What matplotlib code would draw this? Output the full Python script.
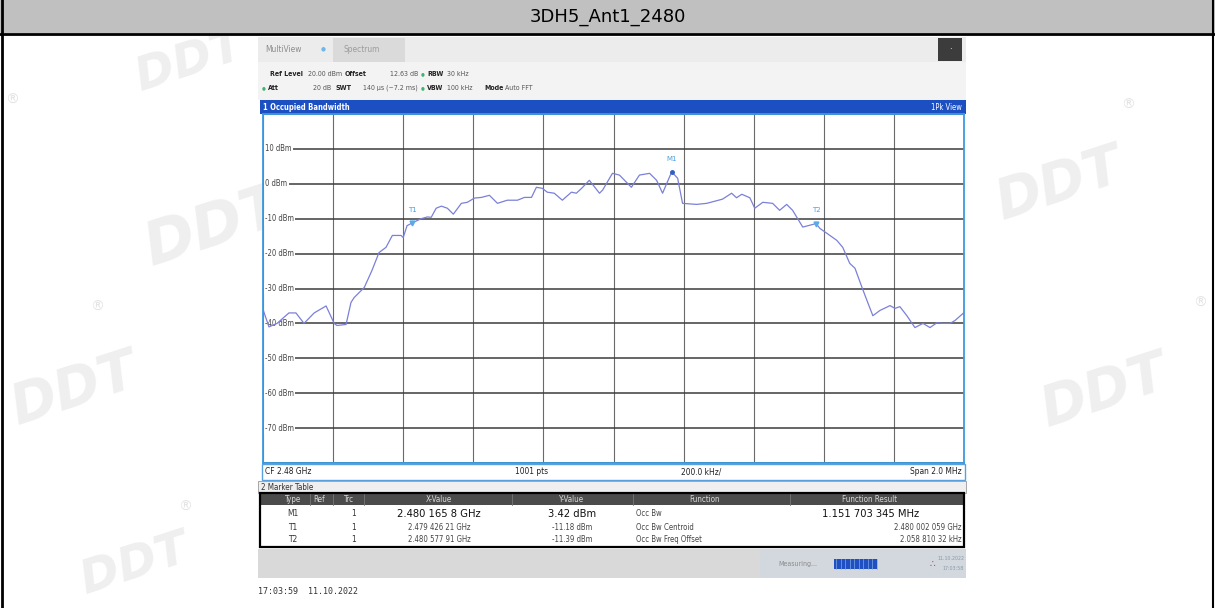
import matplotlib
matplotlib.use("Agg")
import matplotlib.pyplot as plt
from matplotlib.patches import Rectangle
import numpy as np

# trace: offset from 2.479 GHz in kHz, level in dBm
freq_khz = [0, 17, 40, 74, 94, 117, 146, 180, 203, 211, 237, 251, 260, 289, 311, 331,
            351, 369, 394, 400, 411, 426, 451, 469, 480, 494, 509, 526, 543, 566, 583,
            603, 623, 646, 669, 697, 726, 746, 766, 780, 797, 811, 831, 854, 880, 894,
            909, 931, 960, 969, 997, 1017, 1051, 1074, 1103, 1123, 1140, 1166, 1183,
            1197, 1237, 1266, 1311, 1337, 1351, 1366, 1389, 1403, 1426, 1454, 1474,
            1494, 1511, 1540, 1578, 1589, 1609, 1637, 1654, 1674, 1689, 1709, 1723,
            1740, 1760, 1789, 1803, 1817, 1837, 1860, 1883, 1903, 1923, 1940, 1960,
            1974, 2000]
level_dbm = [-36, -41, -40, -37, -37, -40, -37, -35, -40, -40.6, -40.3, -34, -32.6,
             -29.7, -24.8, -19.7, -18.2, -14.8, -14.8, -15.4, -12, -11.2, -10, -9.5,
             -9.6, -7, -6.4, -7, -8.7, -5.6, -5.3, -4.1, -3.9, -3.3, -5.6, -4.7, -4.7,
             -3.9, -3.9, -1, -1.3, -2.4, -2.7, -4.7, -2.4, -2.7, -1.3, 1, -2.7, -1.8,
             3.0, 2.5, -1, 2.5, 3, 1, -2.7, 3.42, 1.6, -5.6, -5.9, -5.6, -4.4, -2.7, -4,
             -3, -4, -7, -5.3, -5.6, -7.6, -5.9, -7.6, -12.4, -11.4, -12.8, -14.2,
             -16.2, -18.2, -22.8, -24.2, -29.7, -33.4, -37.8, -36.3, -34.9, -35.7,
             -35.2, -37.8, -41.2, -40, -41.2, -39.8, -40, -40, -39.2, -36.9]

level_ticks = [10, 0, -10, -20, -30, -40, -50, -60, -70]

marker_names = ["M1", "T1", "T2"]
marker_khz = [1165.8, 426.21, 1577.91]
marker_dbm = [3.42, -11.18, -11.39]

table_cols = ["Type", "Ref", "Trc", "X-Value", "Y-Value", "Function", "Function Result"]
table_x = ["2.480 165 8 GHz", "2.479 426 21 GHz", "2.480 577 91 GHz"]
table_y = ["3.42 dBm", "-11.18 dBm", "-11.39 dBm"]
table_func = ["Occ Bw", "Occ Bw Centroid", "Occ Bw Freq Offset"]
table_res = ["1.151 703 345 MHz", "2.480 002 059 GHz", "2.058 810 32 kHz"]

FAM = ["DejaVu Sans"]
W, H = 1215, 608

fig = plt.figure(figsize=(W / 100, H / 100), dpi=100)
bg = fig.add_axes([0, 0, 1, 1])
bg.set_xlim(0, W)
bg.set_ylim(H, 0)
bg.axis("off")


def box(x0, y0, x1, y1, fc, ec="none", lw=0, z=1):
    bg.add_patch(Rectangle((x0, y0), x1 - x0, y1 - y0, fc=fc, ec=ec, lw=lw, zorder=z))


def txt(x, y, s, size=6, color="#333333", ha="left", weight="normal", z=5, fam=FAM):
    bg.text(x, y, s, fontsize=size, color=color, ha=ha, va="center",
            fontweight=weight, family=fam, fontstretch="condensed", zorder=z)


# faint watermarks
for (wx, wy, ws) in [(1060, 185, 40), (1105, 392, 40), (75, 390, 40), (215, 228, 44),
                     (135, 565, 34), (190, 62, 34)]:
    bg.text(wx, wy, "DDT", fontsize=ws, color="#efefef", fontweight="bold",
            style="italic", rotation=18, ha="center", va="center", zorder=0.5)
for (rx, ry) in [(1128, 105), (1200, 303), (97, 307), (185, 507), (12, 100)]:
    bg.text(rx, ry, "\u00ae", fontsize=10, color="#e4e4e4", ha="center", va="center", zorder=0.5)

# title bar and outer frame
box(0, 0, W, 33, "#c0c0c0", z=1)
bg.plot([0, W], [33.5, 33.5], color="black", lw=2, zorder=2)
bg.plot([2, 2], [0, H], color="black", lw=2, zorder=2)
bg.plot([1213, 1213], [0, H], color="black", lw=1.5, zorder=2)
bg.text(W / 2, 17, "3DH5_Ant1_2480", fontsize=13, ha="center", va="center",
        color="black", zorder=3)

# instrument screen
box(258, 37, 966, 62, "#ececec", z=1)
txt(265, 50, "MultiView", 6, "#8c8c8c")
txt(321, 49, "\u25cf", 4.5, "#6fb7ea")
box(333, 38, 405, 62, "#dadada", z=2)
txt(344, 50, "Spectrum", 6, "#9c9c9c")
box(938, 38, 962, 61, "#3c3c3c", z=2)
txt(950, 49, "\u00b7", 7, "white", ha="center")
box(258, 62, 966, 100, "#f3f3f3", z=1)

txt(270, 74, "Ref Level", 5, "#222", weight="bold")
txt(308, 74, "20.00 dBm", 5, "#555")
txt(345, 74, "Offset", 5, "#222", weight="bold")
txt(418, 74, "12.63 dB", 5, "#555", ha="right")
txt(421, 74, "\u25cf", 3.5, "#3cb371")
txt(427, 74, "RBW", 5, "#222", weight="bold")
txt(447, 74, "30 kHz", 5, "#555")
txt(262, 88, "\u25cf", 3.5, "#3cb371")
txt(268, 88, "Att", 5, "#222", weight="bold")
txt(331, 88, "20 dB", 5, "#555", ha="right")
txt(336, 88, "SWT", 5, "#222", weight="bold")
txt(418, 88, "140 \u00b5s (~7.2 ms)", 5, "#555", ha="right")
txt(421, 88, "\u25cf", 3.5, "#3cb371")
txt(427, 88, "VBW", 5, "#222", weight="bold")
txt(447, 88, "100 kHz", 5, "#555")
txt(484, 88, "Mode", 5, "#222", weight="bold")
txt(505, 88, "Auto FFT", 5, "#555")

box(260, 100, 966, 114, "#1c4fc2", z=2)
txt(263, 107, "1 Occupied Bandwidth", 5.5, "white", weight="bold")
txt(962, 107, "1Pk View", 5.5, "white", ha="right")

# spectrum diagram
x0, y0, x1, y1 = 263, 114, 964, 463
ax = fig.add_axes([x0 / W, 1 - y1 / H, (x1 - x0) / W, (y1 - y0) / H])
ax.set_xlim(0, 2000)
ax.set_ylim(-80, 20)
ax.set_facecolor("white")
ax.set_xticks(np.arange(0, 2001, 200))
ax.set_yticks(np.arange(-80, 21, 10))
ax.tick_params(length=0, labelbottom=False, labelleft=False)
ax.xaxis.grid(True, color="#6a6a6a", lw=0.8)
ax.yaxis.grid(True, color="#3c3c3c", lw=1.1)
ax.set_axisbelow(True)
for sp in ax.spines.values():
    sp.set_color("#3a9ae0")
    sp.set_linewidth(1.3)
    sp.set_zorder(6)

for lv in level_ticks:
    ax.text(6, lv, f"{lv} dBm", fontsize=5.5, color="#444444", va="center", ha="left",
            family=FAM, fontstretch="condensed",
            bbox=dict(fc="white", ec="none", pad=1.0), zorder=2)

ax.plot(freq_khz, level_dbm, color="#7b80d8", lw=0.9, zorder=4)

ax.plot(marker_khz[0], marker_dbm[0], "o", ms=2.5, color="#2f5fc0", zorder=5)
ax.plot(marker_khz[1:], marker_dbm[1:], "v", ms=3.5, color="#5aaae8", zorder=5)
for name, mk, md in zip(marker_names, marker_khz, marker_dbm):
    ax.text(mk, md + 3.8, name, fontsize=5, color="#4aa0e0", ha="center",
            va="center", family=FAM, zorder=5)

txt(882, 123, "M1[1]", 5.3, "#2f8ee0")
txt(962, 123, "3.42 dBm", 5.3, "#2f8ee0", ha="right")
txt(962, 137, "2.480 165 80 GHz", 5.3, "#2f8ee0", ha="right")

# footer of diagram
box(262, 464, 965, 480, "white", ec="#5aa0e0", lw=1, z=2)
txt(265, 472, "CF 2.48 GHz", 6, "#222")
txt(515, 472, "1001 pts", 6, "#222")
txt(681, 472, "200.0 kHz/", 6, "#222")
txt(962, 472, "Span 2.0 MHz", 6, "#222", ha="right")

# marker table
box(258, 481, 966, 493, "#efefef", ec="#999999", lw=0.6, z=2)
txt(261, 487, "2 Marker Table", 5.8, "#333")
box(260, 493, 964, 505, "#4b4b4b", z=2)
box(260, 505, 964, 547, "white", z=2)
box(260, 493, 964, 547, "none", ec="black", lw=1.6, z=4)
col_x = [293, 319, 349, 439, 572, 705, 870]
for cx, cname in zip(col_x, table_cols):
    txt(cx, 499, cname, 5.8, "#d8d8d8", ha="center")
for dx in [310, 333, 364, 512, 633, 790]:
    bg.plot([dx, dx], [493, 505], color="#777777", lw=0.6, zorder=3)

row_y = [514, 527, 539]
for i, ry in enumerate(row_y):
    big = i == 0
    sz = 8 if big else 5.6
    col = "#111" if big else "#444"
    txt(293, ry, marker_names[i], 6, "#333", ha="center")
    txt(354, ry, "1", 6, "#333", ha="center")
    txt(439, ry, table_x[i], sz, col, ha="center")
    txt(572, ry, table_y[i], sz, col, ha="center")
    txt(636, ry, table_func[i], 5.6, "#444")
    if big:
        txt(871, ry, table_res[i], sz, col, ha="center")
    else:
        txt(962, ry, table_res[i], sz, col, ha="right")

# status bar
box(258, 549, 966, 578, "#d9d9d9", z=2)
box(760, 549, 966, 578, "#d2d8de", z=2)
txt(778, 564, "Measuring...", 5, "#8a8a8a")
box(834, 559, 877, 569, "#1f4fc0", z=3)
for bx in np.arange(836, 877, 4.5):
    bg.plot([bx, bx], [559, 569], color="#7fa8e8", lw=0.5, zorder=4)
txt(932, 564, "\u2234", 7, "#d03030", ha="center")
txt(964, 559, "11.10.2022", 3.8, "#8a9aa8", ha="right")
txt(964, 568, "17:03:58", 3.8, "#8a9aa8", ha="right")

txt(258, 591, "17:03:59  11.10.2022", 6, "#333", fam=["DejaVu Sans Mono"])

fig.savefig("out.png", dpi=100)
